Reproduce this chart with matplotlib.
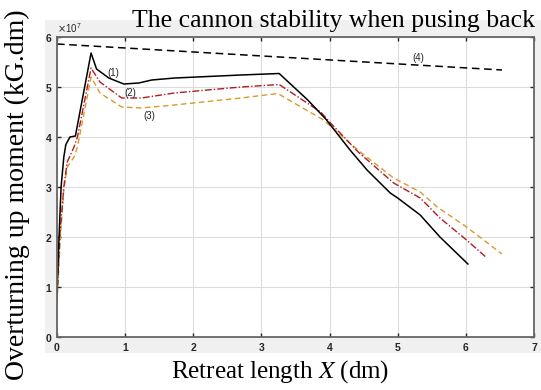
import numpy as np
import matplotlib
matplotlib.use("Agg")
import matplotlib.pyplot as plt
from matplotlib.patches import Rectangle
from matplotlib.ticker import ScalarFormatter

# curve (1) - black solid
x1 = [0, 0.03, 0.06, 0.1, 0.13, 0.19, 0.27, 0.5, 0.58, 0.76, 0.98, 1.2, 1.39, 1.73,
      2.7, 3.26, 3.68, 3.95, 4.3, 4.55, 4.89, 5.0, 5.33, 5.62, 6.03]
y1 = [0.9, 2.0, 3.0, 3.6, 3.85, 4.0, 4.02, 5.68, 5.36, 5.18, 5.06, 5.08, 5.14, 5.18,
      5.24, 5.27, 4.74, 4.35, 3.74, 3.34, 2.88, 2.78, 2.44, 2.0, 1.46]
# curve (2) - red dash-dot
x2 = [0, 0.04, 0.1, 0.15, 0.25, 0.3, 0.5, 0.63, 0.95, 1.24, 1.72, 2.7, 3.26, 3.87,
      4.0, 4.42, 4.94, 5.33, 5.62, 6.01, 6.31]
y2 = [0.75, 2.0, 3.0, 3.5, 3.8, 4.0, 5.38, 5.1, 4.78, 4.78, 4.88, 5.0, 5.05, 4.5,
      4.3, 3.7, 3.08, 2.78, 2.38, 1.94, 1.58]
# curve (3) - orange dashed
x3 = [0, 0.05, 0.1, 0.15, 0.25, 0.3, 0.5, 0.63, 0.95, 1.24, 1.72, 2.7, 3.24, 3.91,
      4.45, 4.94, 5.33, 5.58, 6.01, 6.53]
y3 = [0.68, 2.0, 2.95, 3.4, 3.6, 3.8, 5.2, 4.88, 4.6, 4.58, 4.64, 4.78, 4.87, 4.34,
      3.7, 3.18, 2.9, 2.6, 2.2, 1.66]
# curve (4) - black dashed limit
x4 = [0, 6.53]
y4 = [5.86, 5.34]

scale = 1e7
labels = ["(1)", "(2)", "(3)", "(4)"]
label_pos = [(0.83, 5.28), (1.07, 4.88), (1.36, 4.42), (5.3, 5.58)]

W, H = 541, 390
fig = plt.figure(figsize=(W / 100, H / 100), dpi=100)
bg = Rectangle((45 / W, 1 - 353 / H), (W - 45) / W, (353 - 20) / H,
               transform=fig.transFigure, facecolor="#f0f0f0", edgecolor="none")
fig.add_artist(bg)
bg.set_zorder(-5)

ax = fig.add_axes([57 / W, 1 - 337 / H, 477 / W, 300 / H])
ax.set_zorder(1)
ax.set_facecolor("white")

ax.plot(x4, np.array(y4) * scale, color="black", ls=(0, (5, 3)), lw=1.1)
ax.plot(x3, np.array(y3) * scale, color="#d99a2b", ls=(0, (4, 2.5)), lw=1.0)
ax.plot(x2, np.array(y2) * scale, color="#b01c24", ls=(0, (5, 1.5, 1, 1.5)), lw=1.0)
ax.plot(x1, np.array(y1) * scale, color="black", lw=1.1)

for lab, (lx, ly) in zip(labels, label_pos):
    ax.text(lx, ly * scale, lab, fontsize=7, ha="center", va="center",
            family="Liberation Sans", color="#222222")

ax.set_xlim(0, 7)
ax.set_ylim(0, 6e7)
ax.set_xticks(range(0, 8))
ax.set_yticks(np.arange(0, 7) * scale)
fmt = ScalarFormatter(useMathText=True)
fmt.set_powerlimits((0, 0))
ax.yaxis.set_major_formatter(fmt)
off = ax.yaxis.get_offset_text()
off.set_fontsize(7)
off.set_family("Liberation Sans")
off.set_color("#444444")
ax.grid(True, color="#dcdcdc", lw=0.8)
ax.set_axisbelow(True)
ax.tick_params(direction="in", top=True, right=True, length=3, labelsize=7.5,
               colors="#262626", width=1.0)
ax.tick_params(axis="y", pad=3)
ax.tick_params(axis="x", pad=4)
for lab in ax.get_xticklabels() + ax.get_yticklabels():
    lab.set_family("Liberation Sans")
    lab.set_fontweight("bold")
for sp in ax.spines.values():
    sp.set_color("#666666")
    sp.set_linewidth(1.3)

fig.text(334 / W, 1 - 27 / H, "The cannon stability when pusing back",
         ha="center", va="baseline", fontsize=18.5, family="Liberation Serif",
         zorder=3)
fig.text(280 / W, 1 - 372 / H, r"Retreat length $X$ (dm)", ha="center", va="center",
         fontsize=18, family="Liberation Serif", math_fontfamily="stix")
fig.text(17 / W, 0.5, "Overturning up moment (kG.dm)", ha="center", va="center",
         rotation=90, fontsize=20, family="Liberation Serif")

fig.savefig("out.png", dpi=100)
